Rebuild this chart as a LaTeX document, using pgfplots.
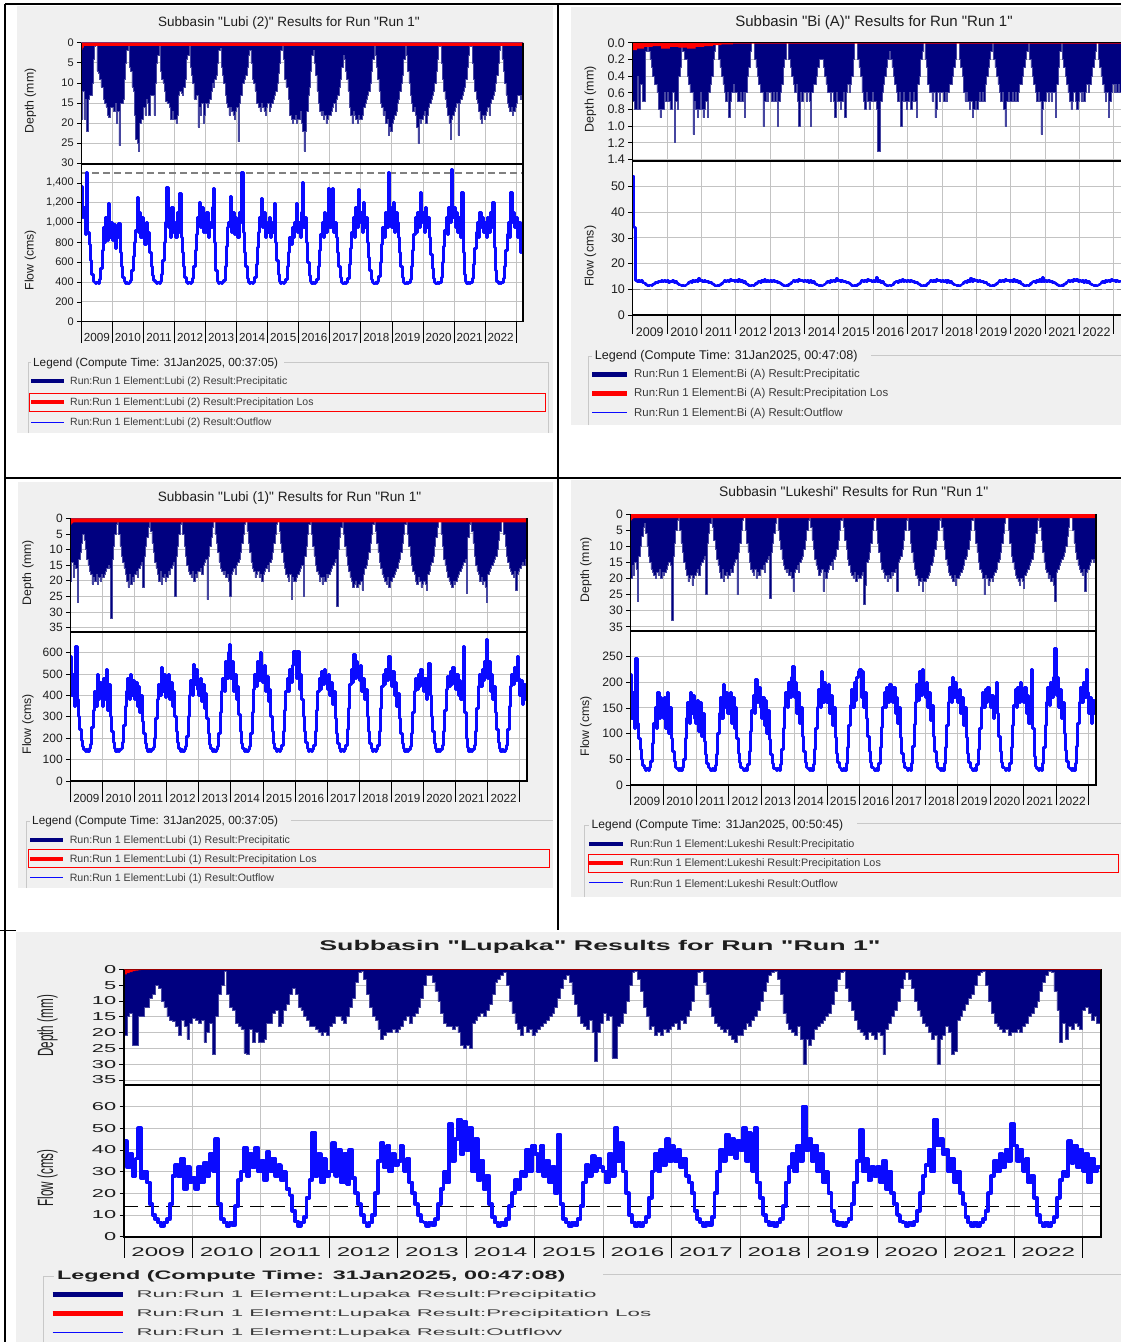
\documentclass[border=0pt]{standalone}
\usepackage{fontspec}
\setmainfont{Liberation Sans}[Ligatures=TeXOff]
\newfontfamily\widef{Liberation Sans}[FakeStretch=1.9, Ligatures=TeXOff]
\newfontfamily\wideg{Liberation Sans}[FakeStretch=2.3, Ligatures=TeXOff]
\newfontfamily\tallf{Liberation Sans}[FakeStretch=0.53, Ligatures=TeXOff]
\usepackage{pgfplots}
\pgfplotsset{compat=1.18}
\newcommand\fs[1]{\fontsize{#1}{#1}\selectfont}
\definecolor{hnavy}{RGB}{0,0,128}
\definecolor{hedge}{RGB}{70,70,160}
\definecolor{hblue}{RGB}{10,10,255}
\definecolor{hred}{RGB}{255,0,0}
\definecolor{winbg}{RGB}{240,240,240}
\definecolor{gridc}{RGB}{195,195,195}
\definecolor{boxc}{RGB}{200,200,200}
\definecolor{txt}{RGB}{30,30,30}
\definecolor{ltxt}{RGB}{60,60,60}
\pgfplotsset{
  hms/.style={scale only axis, anchor=north west, xmin=0, xmax=341.3,
    xtick={0,24,48,72,96,120,144,168,192,216,240,264,288,312,336},
    axis line style={draw=none}, axis background/.style={fill=white},
    grid=major, major grid style={draw=gridc, line width=0.9pt},
    tick align=outside, major tick length=4.5pt,
    ytick pos=left, xtick pos=bottom,
    tick style={black, line width=0.7pt}, xtick style={draw=none},
    yticklabel style={anchor=east, inner sep=3pt, text=txt},
    xticklabel style={text=txt},
    ylabel style={anchor=center, text=txt}},
  depth/.style={hms, y dir=reverse, ymin=0, xticklabels={}},
  flow/.style={hms, ymin=0, x tick label as interval,
    xticklabels={2009,2010,2011,2012,2013,2014,2015,2016,2017,2018,2019,2020,2021,2022},
    xticklabel style={anchor=base}},
  prec/.style={const plot, fill=hnavy, draw=hedge, line width=0.5pt},
  loss/.style={const plot, fill=hred, draw=none},
  outf/.style={const plot, draw=hblue, line width=3pt, line join=round},
}
\begin{document}
\begin{tikzpicture}
\useasboundingbox (0pt,0pt) rectangle (1121pt,-1342pt);
\begin{scope}[x=1pt,y=-1pt]
\fill[white] (0,0) rectangle (1121,1342);
\fill[winbg] (17,6) rectangle (553,433);
\fill[winbg] (571,7) rectangle (1121,425);
\fill[winbg] (18,482) rectangle (553,888);
\fill[winbg] (571,480) rectangle (1121,897);
\fill[winbg] (16,932) rectangle (1121,1342);
\draw[black, line width=1.2pt] (5,4) -- (1121,4);
\draw[black, line width=1.2pt] (5,4) -- (5,1342);
\draw[black, line width=1.2pt] (5,478) -- (1121,478);
\draw[black, line width=1.2pt] (558,4) -- (558,930);
\draw[black, line width=1.2pt] (0,930.5) -- (16,930.5);
\end{scope}

%================ TL : Lubi (2)
\begin{axis}[depth, at={(81.4pt,-42.7pt)}, width=441.6pt, height=121.3pt, ymax=30.2,
  ytick={0,5,10,15,20,25,30}, yticklabels={0,5,10,15,20,25,30},
  yticklabel style={font=\fs{11}}, ylabel={Depth (mm)},
  ylabel style={font=\fs{12.3}, at={(axis description cs:-0.1155,0.52)}}]
\addplot[prec] table[row sep=\\, header=false, x expr=\coordindex, y index=0]{
19\\ 12\\ 19\\ 14\\ 22\\ 14\\ 13\\ 13\\ 10\\ 4\\ 1\\ 0\\ 7\\ 7.5\\ 9\\ 11\\ 11\\ 14\\ 15\\ 16\\ 18\\ 18.5\\ 16\\ 16\\
16\\ 17\\ 15\\ 20\\ 17\\ 25.6\\ 15\\ 15\\ 14\\ 9\\ 5\\ 2\\ 0\\ 6\\ 7\\ 11\\ 12\\ 18\\ 24\\ 25\\ 27\\ 20\\ 19\\ 19\\
16\\ 18\\ 14\\ 15\\ 18\\ 13\\ 13\\ 13\\ 18\\ 10\\ 5\\ 3\\ 0\\ 7\\ 9\\ 10\\ 12\\ 14.6\\ 15\\ 15\\ 16\\ 19\\ 17\\ 19\\
19\\ 20\\ 18\\ 13\\ 12\\ 12.5\\ 13\\ 11\\ 9\\ 4\\ 3\\ 0\\ 6\\ 8\\ 10\\ 14\\ 14\\ 13\\ 21\\ 16\\ 18\\ 15\\ 20\\ 18\\
15\\ 16\\ 15\\ 14\\ 12\\ 10\\ 11\\ 9\\ 8\\ 5\\ 2\\ 1.5\\ 6\\ 8\\ 10\\ 13\\ 15\\ 16\\ 18\\ 16\\ 17\\ 18\\ 19\\ 17\\
16\\ 24.6\\ 15\\ 13\\ 10\\ 10\\ 9\\ 8\\ 6\\ 3\\ 2\\ 5\\ 9\\ 10\\ 12\\ 15\\ 15\\ 16\\ 17\\ 15\\ 16\\ 17\\ 18\\ 16\\
15\\ 17\\ 16\\ 15\\ 14\\ 13\\ 12\\ 10\\ 7.5\\ 5\\ 2\\ 0\\ 4\\ 9\\ 11\\ 11\\ 14\\ 18\\ 19\\ 20\\ 19\\ 18\\ 20\\ 19\\
19\\ 17\\ 20\\ 22\\ 27\\ 22\\ 17\\ 13\\ 11\\ 7\\ 3\\ 2\\ 5\\ 8\\ 12\\ 15\\ 17\\ 18\\ 17\\ 19\\ 18\\ 20\\ 19\\ 18\\
18\\ 17\\ 16\\ 15\\ 17\\ 14\\ 13\\ 11\\ 9\\ 6\\ 3\\ 4\\ 7\\ 9\\ 12\\ 16\\ 18\\ 20\\ 17\\ 18\\ 19\\ 20\\ 18\\ 19\\
19\\ 18\\ 16\\ 15\\ 14\\ 13\\ 12\\ 10\\ 7\\ 4\\ 0\\ 3\\ 6\\ 9\\ 12\\ 15\\ 16\\ 18\\ 17\\ 20\\ 19\\ 23\\ 21\\ 22\\
20\\ 19\\ 18\\ 17\\ 15\\ 14\\ 12\\ 10\\ 8\\ 4\\ 0\\ 3\\ 7\\ 10\\ 13\\ 15\\ 17\\ 16\\ 18\\ 21\\ 25\\ 19\\ 20\\ 19\\
18\\ 17\\ 20\\ 18\\ 16\\ 15\\ 14\\ 13\\ 12\\ 10\\ 7\\ 4\\ 1\\ 0\\ 5\\ 9\\ 12\\ 14\\ 16\\ 18\\ 20\\ 24\\ 19\\ 18\\
17\\ 16\\ 15\\ 23\\ 15\\ 14\\ 13\\ 12\\ 11\\ 9\\ 6\\ 3\\ 1\\ 0\\ 5\\ 9\\ 12\\ 14\\ 15\\ 17\\ 19\\ 20\\ 18\\ 19\\
18\\ 17\\ 16\\ 18\\ 15\\ 14\\ 13\\ 12\\ 10\\ 8\\ 5\\ 2\\ 0\\ 4\\ 7\\ 10\\ 13\\ 15\\ 16\\ 17\\ 16\\ 18\\ 17\\ 16\\
15\\ 13\\ 13\\ 14\\ 13\\ 13\\ 13\\ 13\\
} \closedcycle;
\addplot[loss] coordinates {(0,1.7)(1,1.2)(2,0.8)(343,0.8)} \closedcycle;
\end{axis}
\begin{axis}[flow, at={(81.4pt,-164pt)}, width=441.6pt, height=157.7pt, ymax=1590,
  ytick={0,200,400,600,800,1000,1200,1400}, yticklabels={0,200,400,600,800,{1,000},{1,200},{1,400}},
  yticklabel style={font=\fs{11}}, xticklabel style={font=\fs{11.7}, yshift=-15pt},
  ylabel={Flow (cms)}, ylabel style={font=\fs{12.3}, at={(axis description cs:-0.1155,0.39)}}]
\addplot[gray, line width=1.2pt, dash pattern=on 7pt off 4pt] coordinates {(0,1500)(341.3,1500)};
\addplot[outf] table[row sep=\\, header=false, x expr=\coordindex, y index=0]{
1360\\ 1050\\ 1150\\ 880\\ 1500\\ 900\\ 780\\ 620\\ 480\\ 410\\ 398\\ 385\\ 395\\ 388\\ 430\\ 540\\ 720\\ 950\\ 800\\ 1050\\ 820\\ 1190\\ 850\\ 1000\\
820\\ 980\\ 740\\ 900\\ 850\\ 990\\ 700\\ 560\\ 450\\ 402\\ 388\\ 396\\ 385\\ 398\\ 420\\ 520\\ 660\\ 800\\ 920\\ 1250\\ 900\\ 1100\\ 850\\ 1050\\
950\\ 780\\ 1000\\ 800\\ 900\\ 700\\ 560\\ 470\\ 415\\ 398\\ 386\\ 397\\ 388\\ 410\\ 480\\ 620\\ 800\\ 1000\\ 1350\\ 950\\ 1100\\ 850\\ 1150\\ 900\\
1000\\ 850\\ 1100\\ 900\\ 1290\\ 850\\ 700\\ 560\\ 450\\ 400\\ 388\\ 396\\ 386\\ 398\\ 440\\ 560\\ 720\\ 880\\ 1050\\ 1200\\ 950\\ 1150\\ 900\\ 1050\\
900\\ 1100\\ 850\\ 1000\\ 950\\ 1150\\ 1340\\ 800\\ 520\\ 410\\ 390\\ 398\\ 386\\ 396\\ 420\\ 560\\ 760\\ 950\\ 1000\\ 1260\\ 900\\ 1100\\ 880\\ 1050\\
1000\\ 850\\ 1100\\ 1000\\ 1500\\ 900\\ 700\\ 560\\ 440\\ 400\\ 388\\ 397\\ 386\\ 400\\ 450\\ 580\\ 750\\ 900\\ 1050\\ 1240\\ 950\\ 1100\\ 850\\ 1000\\
900\\ 1050\\ 850\\ 1000\\ 900\\ 1190\\ 800\\ 620\\ 480\\ 410\\ 390\\ 398\\ 386\\ 395\\ 430\\ 560\\ 700\\ 850\\ 780\\ 950\\ 850\\ 1000\\ 1190\\ 900\\
1000\\ 850\\ 1100\\ 1400\\ 950\\ 1050\\ 800\\ 600\\ 470\\ 405\\ 388\\ 397\\ 386\\ 398\\ 430\\ 560\\ 720\\ 880\\ 1000\\ 850\\ 1100\\ 900\\ 1050\\ 1340\\
950\\ 1100\\ 1340\\ 900\\ 1000\\ 850\\ 700\\ 560\\ 450\\ 400\\ 388\\ 396\\ 386\\ 400\\ 440\\ 580\\ 740\\ 900\\ 1050\\ 850\\ 1150\\ 950\\ 1330\\ 1000\\
1100\\ 900\\ 1200\\ 950\\ 1050\\ 800\\ 650\\ 520\\ 430\\ 398\\ 386\\ 396\\ 388\\ 405\\ 460\\ 600\\ 780\\ 950\\ 850\\ 1100\\ 950\\ 1500\\ 1000\\ 1150\\
950\\ 1200\\ 900\\ 1100\\ 1000\\ 850\\ 700\\ 560\\ 450\\ 400\\ 388\\ 396\\ 386\\ 398\\ 430\\ 560\\ 720\\ 880\\ 1050\\ 900\\ 1100\\ 950\\ 1300\\ 1000\\
1100\\ 900\\ 1150\\ 950\\ 1050\\ 850\\ 680\\ 540\\ 440\\ 400\\ 388\\ 396\\ 386\\ 400\\ 450\\ 600\\ 760\\ 920\\ 1050\\ 880\\ 1150\\ 1000\\ 1530\\ 1050\\
1150\\ 950\\ 1100\\ 900\\ 1050\\ 850\\ 1300\\ 700\\ 480\\ 405\\ 388\\ 397\\ 386\\ 398\\ 440\\ 580\\ 740\\ 900\\ 1000\\ 850\\ 1100\\ 950\\ 1050\\ 900\\
1000\\ 850\\ 1050\\ 900\\ 1100\\ 950\\ 1200\\ 750\\ 520\\ 410\\ 388\\ 396\\ 386\\ 400\\ 440\\ 560\\ 720\\ 880\\ 1000\\ 850\\ 1300\\ 1000\\ 1100\\ 950\\
1050\\ 850\\ 1000\\ 700\\ 950\\ 1000\\ 950\\ 950\\
};
\end{axis}

%================ TR : Bi (A)
\begin{axis}[depth, at={(632.6pt,-42.7pt)}, width=488.8pt, height=118pt, ymax=1.416,
  ytick={0,0.2,0.4,0.6,0.8,1.0,1.2,1.4}, yticklabels={0.0,0.2,0.4,0.6,0.8,1.0,1.2,1.4},
  yticklabel style={font=\fs{12.5}}, ylabel={Depth (mm)},
  ylabel style={font=\fs{12.5}, at={(axis description cs:-0.0863,0.52)}}]
\addplot[prec] table[row sep=\\, header=false, x expr=\coordindex, y index=0]{
0.7\\ 0.8\\ 0.8\\ 0.4\\ 0.8\\ 0.5\\ 0.5\\ 0.7\\ 0.7\\ 0.1\\ 0.0\\ 0.1\\ 0.2\\ 0.3\\ 0.4\\ 0.5\\ 0.5\\ 0.6\\ 0.8\\ 0.9\\ 0.8\\ 0.8\\ 0.6\\ 0.7\\
0.6\\ 0.7\\ 0.8\\ 0.8\\ 0.6\\ 1.2\\ 0.7\\ 0.8\\ 0.4\\ 0.3\\ 0.0\\ 0.1\\ 0.2\\ 0.2\\ 0.4\\ 0.5\\ 0.6\\ 0.6\\ 1.1\\ 0.7\\ 0.8\\ 0.9\\ 0.8\\ 0.6\\
0.8\\ 0.9\\ 0.8\\ 0.7\\ 0.9\\ 0.6\\ 0.5\\ 0.4\\ 0.2\\ 0.1\\ 0.0\\ 0.0\\ 0.2\\ 0.3\\ 0.4\\ 0.5\\ 0.6\\ 0.7\\ 0.6\\ 0.9\\ 0.7\\ 0.6\\ 0.5\\ 0.6\\
0.6\\ 0.7\\ 0.7\\ 0.6\\ 0.7\\ 0.6\\ 0.9\\ 0.6\\ 0.4\\ 0.3\\ 0.1\\ 0.0\\ 0.0\\ 0.2\\ 0.3\\ 0.4\\ 0.5\\ 0.6\\ 0.6\\ 1.0\\ 0.7\\ 0.6\\ 0.7\\ 0.6\\
0.6\\ 0.7\\ 0.6\\ 0.7\\ 0.6\\ 1.0\\ 0.7\\ 0.6\\ 0.5\\ 0.3\\ 0.2\\ 0.0\\ 0.0\\ 0.2\\ 0.3\\ 0.4\\ 0.5\\ 0.6\\ 0.5\\ 0.7\\ 1.0\\ 0.6\\ 0.7\\ 0.6\\
0.6\\ 0.7\\ 0.6\\ 0.7\\ 1.0\\ 0.6\\ 0.5\\ 0.5\\ 0.4\\ 0.3\\ 0.2\\ 0.2\\ 0.2\\ 0.3\\ 0.4\\ 0.5\\ 0.6\\ 0.6\\ 0.7\\ 0.6\\ 0.7\\ 0.9\\ 0.6\\ 0.7\\
0.7\\ 0.8\\ 0.7\\ 0.6\\ 0.9\\ 0.6\\ 0.5\\ 0.6\\ 0.5\\ 0.4\\ 0.2\\ 0.0\\ 0.0\\ 0.2\\ 0.3\\ 0.4\\ 0.6\\ 0.7\\ 0.8\\ 0.6\\ 0.7\\ 0.8\\ 0.7\\ 0.6\\
0.7\\ 0.7\\ 0.8\\ 1.3\\ 1.3\\ 0.7\\ 0.6\\ 0.5\\ 0.4\\ 0.3\\ 0.2\\ 0.1\\ 0.2\\ 0.3\\ 0.4\\ 0.5\\ 0.6\\ 0.7\\ 0.6\\ 1.0\\ 0.7\\ 0.6\\ 0.7\\ 0.8\\
0.7\\ 0.6\\ 0.8\\ 0.7\\ 0.6\\ 0.7\\ 0.9\\ 0.5\\ 0.4\\ 0.2\\ 0.1\\ 0.0\\ 0.2\\ 0.3\\ 0.5\\ 0.6\\ 0.6\\ 0.7\\ 0.6\\ 0.9\\ 0.8\\ 0.6\\ 0.7\\ 0.6\\
0.6\\ 0.7\\ 0.6\\ 0.7\\ 0.6\\ 0.5\\ 0.5\\ 0.4\\ 0.3\\ 0.2\\ 0.0\\ 0.0\\ 0.2\\ 0.3\\ 0.4\\ 0.6\\ 0.7\\ 0.6\\ 0.7\\ 0.8\\ 0.7\\ 0.9\\ 0.8\\ 0.7\\
0.8\\ 0.7\\ 0.6\\ 0.7\\ 0.6\\ 0.7\\ 0.5\\ 0.4\\ 0.3\\ 0.2\\ 0.1\\ 0.0\\ 0.2\\ 0.3\\ 0.4\\ 0.5\\ 0.6\\ 0.7\\ 0.6\\ 0.8\\ 1.0\\ 0.7\\ 0.6\\ 0.7\\
0.7\\ 0.6\\ 0.7\\ 0.6\\ 0.7\\ 0.6\\ 0.5\\ 0.5\\ 0.4\\ 0.3\\ 0.2\\ 0.1\\ 0.0\\ 0.2\\ 0.3\\ 0.4\\ 0.5\\ 0.6\\ 0.7\\ 0.6\\ 0.7\\ 1.1\\ 0.8\\ 0.7\\
0.7\\ 0.6\\ 0.7\\ 0.6\\ 0.7\\ 0.6\\ 0.6\\ 0.9\\ 0.5\\ 0.3\\ 0.1\\ 0.0\\ 0.2\\ 0.3\\ 0.4\\ 0.5\\ 0.6\\ 0.7\\ 0.8\\ 0.7\\ 0.6\\ 0.7\\ 0.8\\ 0.7\\
0.6\\ 0.7\\ 0.6\\ 0.7\\ 0.6\\ 0.5\\ 0.6\\ 0.5\\ 0.4\\ 0.3\\ 0.2\\ 0.1\\ 0.0\\ 0.2\\ 0.3\\ 0.4\\ 0.5\\ 0.6\\ 0.7\\ 0.6\\ 0.9\\ 0.7\\ 0.6\\ 0.5\\
0.6\\ 0.5\\ 0.6\\ 0.5\\ 0.6\\ 0.5\\ 0.6\\ 0.6\\
} \closedcycle;
\addplot[loss] coordinates {(0,0.09)(3,0.07)(8,0.05)(14,0.04)(20,0.07)(26,0.05)(32,0.06)(38,0.07)(44,0.05)(50,0.04)(56,0.03)(62,0.02)(70,0.012)(343,0.012)} \closedcycle;
\end{axis}
\begin{axis}[flow, at={(632.6pt,-160.7pt)}, width=488.8pt, height=154.3pt, ymax=60,
  ytick={0,10,20,30,40,50}, yticklabels={0,10,20,30,40,50},
  yticklabel style={font=\fs{12.5}}, xticklabel style={font=\fs{12.5}, yshift=-16.5pt},
  ylabel={Flow (cms)}, ylabel style={font=\fs{12.5}, at={(axis description cs:-0.0863,0.38)}}]
\addplot[gray, line width=1.2pt, dash pattern=on 7pt off 4pt] coordinates {(0,10)(341.3,10)};
\addplot[outf, line width=2.6pt] table[row sep=\\, header=false, x expr=\coordindex, y index=0]{
54\\ 34\\ 13.5\\ 12.8\\ 13.6\\ 12.9\\ 13.4\\ 12.6\\ 12.4\\ 11.9\\ 11.5\\ 11.3\\ 11.6\\ 11.4\\ 11.8\\ 12.3\\ 12.9\\ 12.6\\ 13.2\\ 12.8\\ 13.4\\ 13.0\\ 13.3\\ 12.9\\
13.4\\ 12.7\\ 13.2\\ 12.8\\ 13.5\\ 12.6\\ 13.0\\ 12.3\\ 11.9\\ 11.6\\ 11.3\\ 11.5\\ 11.3\\ 11.7\\ 12.1\\ 12.7\\ 13.1\\ 12.7\\ 13.4\\ 12.9\\ 13.6\\ 13.1\\ 14.2\\ 13.3\\
13.6\\ 12.9\\ 13.4\\ 12.8\\ 13.2\\ 12.5\\ 12.8\\ 12.2\\ 11.8\\ 11.5\\ 11.3\\ 11.5\\ 11.4\\ 11.8\\ 12.3\\ 12.9\\ 13.3\\ 12.8\\ 13.5\\ 13.0\\ 13.8\\ 13.2\\ 13.6\\ 13.0\\
13.5\\ 12.8\\ 13.7\\ 12.9\\ 13.3\\ 12.6\\ 13.0\\ 12.3\\ 11.9\\ 11.5\\ 11.3\\ 11.6\\ 11.4\\ 11.7\\ 12.2\\ 12.8\\ 13.2\\ 12.7\\ 13.5\\ 13.0\\ 13.7\\ 13.1\\ 13.5\\ 13.0\\
13.4\\ 12.8\\ 13.6\\ 12.9\\ 13.2\\ 12.5\\ 12.9\\ 12.2\\ 11.8\\ 11.5\\ 11.3\\ 11.5\\ 11.3\\ 11.8\\ 12.2\\ 12.8\\ 13.3\\ 12.8\\ 13.6\\ 13.0\\ 13.9\\ 13.2\\ 13.6\\ 13.1\\
13.5\\ 12.9\\ 13.3\\ 12.7\\ 13.4\\ 12.6\\ 13.0\\ 12.3\\ 11.9\\ 11.6\\ 11.4\\ 11.5\\ 11.3\\ 11.7\\ 12.1\\ 12.7\\ 13.2\\ 12.7\\ 13.5\\ 13.0\\ 13.6\\ 13.1\\ 14.3\\ 13.2\\
13.6\\ 12.9\\ 13.4\\ 12.8\\ 13.2\\ 12.6\\ 12.9\\ 12.2\\ 11.8\\ 11.5\\ 11.3\\ 11.5\\ 11.4\\ 11.8\\ 12.3\\ 12.9\\ 13.3\\ 12.8\\ 13.6\\ 13.1\\ 13.8\\ 13.2\\ 13.6\\ 13.0\\
13.5\\ 12.8\\ 14.5\\ 12.9\\ 13.3\\ 12.6\\ 13.0\\ 12.3\\ 11.9\\ 11.5\\ 11.3\\ 11.6\\ 11.4\\ 11.7\\ 12.2\\ 12.8\\ 13.2\\ 12.7\\ 13.5\\ 13.0\\ 13.7\\ 13.1\\ 13.5\\ 13.0\\
13.4\\ 12.8\\ 13.6\\ 12.9\\ 13.2\\ 12.5\\ 12.9\\ 12.2\\ 11.8\\ 11.5\\ 11.3\\ 11.5\\ 11.3\\ 11.8\\ 12.2\\ 12.8\\ 13.3\\ 12.8\\ 13.6\\ 13.0\\ 13.9\\ 13.2\\ 13.6\\ 13.1\\
13.5\\ 12.9\\ 13.3\\ 12.7\\ 13.4\\ 12.6\\ 13.0\\ 12.3\\ 11.9\\ 11.6\\ 11.4\\ 11.5\\ 11.3\\ 11.7\\ 12.1\\ 12.7\\ 13.2\\ 12.7\\ 13.5\\ 13.0\\ 14.4\\ 13.1\\ 13.8\\ 13.2\\
13.6\\ 12.9\\ 13.4\\ 12.8\\ 13.2\\ 12.6\\ 12.9\\ 12.2\\ 11.8\\ 11.5\\ 11.3\\ 11.5\\ 11.4\\ 11.8\\ 12.3\\ 12.9\\ 13.3\\ 12.8\\ 13.6\\ 13.1\\ 13.8\\ 13.2\\ 13.6\\ 13.0\\
13.5\\ 12.8\\ 13.7\\ 12.9\\ 13.3\\ 12.6\\ 13.0\\ 12.3\\ 11.9\\ 11.5\\ 11.3\\ 11.6\\ 11.4\\ 11.7\\ 12.2\\ 12.8\\ 13.2\\ 12.7\\ 13.5\\ 13.0\\ 13.7\\ 13.1\\ 14.6\\ 13.0\\
13.4\\ 12.8\\ 13.6\\ 12.9\\ 13.2\\ 12.5\\ 12.9\\ 12.2\\ 11.8\\ 11.5\\ 11.3\\ 11.5\\ 11.3\\ 11.8\\ 12.2\\ 12.8\\ 13.3\\ 12.8\\ 13.6\\ 13.0\\ 13.9\\ 13.2\\ 14.0\\ 13.1\\
13.5\\ 12.9\\ 13.3\\ 12.7\\ 13.4\\ 12.6\\ 13.0\\ 12.3\\ 11.9\\ 11.6\\ 11.4\\ 11.5\\ 11.3\\ 11.7\\ 12.1\\ 12.7\\ 13.2\\ 12.7\\ 13.5\\ 13.0\\ 13.6\\ 13.1\\ 13.8\\ 13.2\\
13.6\\ 12.9\\ 13.4\\ 12.8\\ 13.2\\ 12.9\\ 13.1\\ 13.1\\
};
\end{axis}

%================ ML : Lubi (1)
\begin{axis}[depth, at={(70.4pt,-518.3pt)}, width=456.4pt, height=113.4pt, ymax=36.3,
  ytick={0,5,10,15,20,25,30,35}, yticklabels={0,5,10,15,20,25,30,35},
  yticklabel style={font=\fs{12}}, ylabel={Depth (mm)},
  ylabel style={font=\fs{12.3}, at={(axis description cs:-0.0931,0.52)}}]
\addplot[prec] table[row sep=\\, header=false, x expr=\coordindex, y index=0]{
20\\ 14\\ 19\\ 15\\ 16\\ 27\\ 13\\ 11\\ 8\\ 5\\ 7\\ 10\\ 13\\ 15\\ 17\\ 18\\ 21\\ 19\\ 20\\ 18\\ 21\\ 19\\ 20\\ 18\\
19\\ 18\\ 17\\ 16\\ 15\\ 16\\ 32\\ 13\\ 9\\ 5\\ 2\\ 0\\ 5\\ 9\\ 12\\ 14\\ 16\\ 18\\ 20\\ 22\\ 18\\ 21\\ 19\\ 20\\
18\\ 17\\ 19\\ 16\\ 15\\ 14\\ 22\\ 12\\ 9\\ 6\\ 3\\ 0\\ 4\\ 8\\ 11\\ 14\\ 16\\ 18\\ 20\\ 17\\ 21\\ 19\\ 18\\ 20\\
19\\ 17\\ 18\\ 16\\ 15\\ 14\\ 25\\ 12\\ 9\\ 5\\ 2\\ 0\\ 5\\ 9\\ 12\\ 15\\ 17\\ 18\\ 19\\ 17\\ 20\\ 18\\ 19\\ 17\\
17\\ 16\\ 18\\ 15\\ 14\\ 13\\ 26\\ 12\\ 9\\ 6\\ 3\\ 0\\ 5\\ 8\\ 11\\ 14\\ 16\\ 17\\ 18\\ 17\\ 19\\ 18\\ 20\\ 25\\
18\\ 17\\ 16\\ 18\\ 15\\ 14\\ 13\\ 11\\ 8\\ 5\\ 2\\ 0\\ 4\\ 8\\ 11\\ 14\\ 16\\ 17\\ 19\\ 18\\ 17\\ 19\\ 18\\ 20\\
18\\ 17\\ 16\\ 15\\ 17\\ 14\\ 13\\ 11\\ 8\\ 5\\ 2\\ 0\\ 4\\ 8\\ 11\\ 14\\ 16\\ 18\\ 19\\ 20\\ 18\\ 26\\ 19\\ 20\\
20\\ 19\\ 18\\ 17\\ 16\\ 15\\ 25\\ 12\\ 9\\ 5\\ 2\\ 0\\ 5\\ 9\\ 12\\ 15\\ 17\\ 18\\ 20\\ 19\\ 21\\ 19\\ 20\\ 18\\
19\\ 18\\ 17\\ 16\\ 15\\ 14\\ 13\\ 28\\ 10\\ 6\\ 3\\ 0\\ 5\\ 9\\ 12\\ 15\\ 17\\ 19\\ 20\\ 22\\ 21\\ 20\\ 22\\ 21\\
21\\ 20\\ 23\\ 18\\ 16\\ 15\\ 13\\ 11\\ 8\\ 5\\ 2\\ 0\\ 4\\ 8\\ 11\\ 14\\ 16\\ 18\\ 19\\ 20\\ 21\\ 19\\ 22\\ 20\\
20\\ 19\\ 18\\ 17\\ 16\\ 14\\ 13\\ 11\\ 8\\ 5\\ 2\\ 0\\ 5\\ 9\\ 12\\ 15\\ 17\\ 18\\ 20\\ 21\\ 19\\ 20\\ 22\\ 21\\
20\\ 21\\ 23\\ 18\\ 17\\ 15\\ 14\\ 12\\ 9\\ 6\\ 3\\ 1\\ 0\\ 5\\ 9\\ 13\\ 15\\ 17\\ 19\\ 20\\ 21\\ 22\\ 20\\ 21\\
20\\ 19\\ 18\\ 17\\ 16\\ 15\\ 14\\ 13\\ 24\\ 6\\ 2\\ 0\\ 4\\ 8\\ 12\\ 15\\ 17\\ 18\\ 20\\ 19\\ 21\\ 20\\ 22\\ 27\\
18\\ 17\\ 16\\ 15\\ 14\\ 13\\ 12\\ 10\\ 7\\ 4\\ 1\\ 0\\ 5\\ 9\\ 12\\ 14\\ 16\\ 17\\ 18\\ 19\\ 17\\ 23\\ 18\\ 17\\
16\\ 15\\ 14\\ 15\\ 13\\ 15\\ 15\\ 15\\
} \closedcycle;
\addplot[loss] coordinates {(0,2.0)(1,1.6)(2,1.3)(343,1.3)} \closedcycle;
\end{axis}
\begin{axis}[flow, at={(70.4pt,-631.7pt)}, width=456.4pt, height=149.3pt, ymax=698,
  ytick={0,100,200,300,400,500,600}, yticklabels={0,100,200,300,400,500,600},
  yticklabel style={font=\fs{12}}, xticklabel style={font=\fs{11.7}, yshift=-16.5pt},
  ylabel={Flow (cms)}, ylabel style={font=\fs{12.3}, at={(axis description cs:-0.0931,0.38)}}]
\addplot[outf] table[row sep=\\, header=false, x expr=\coordindex, y index=0]{
580\\ 400\\ 500\\ 350\\ 630\\ 380\\ 300\\ 240\\ 190\\ 160\\ 145\\ 136\\ 146\\ 138\\ 150\\ 170\\ 250\\ 330\\ 420\\ 350\\ 500\\ 380\\ 460\\ 400\\
350\\ 480\\ 380\\ 520\\ 330\\ 450\\ 300\\ 230\\ 180\\ 150\\ 138\\ 146\\ 136\\ 145\\ 150\\ 180\\ 260\\ 350\\ 420\\ 480\\ 380\\ 500\\ 400\\ 470\\
380\\ 460\\ 350\\ 440\\ 320\\ 400\\ 280\\ 220\\ 175\\ 150\\ 138\\ 146\\ 136\\ 145\\ 155\\ 200\\ 290\\ 380\\ 450\\ 400\\ 530\\ 420\\ 500\\ 390\\
420\\ 500\\ 380\\ 460\\ 350\\ 420\\ 300\\ 230\\ 180\\ 150\\ 138\\ 146\\ 136\\ 147\\ 160\\ 210\\ 300\\ 400\\ 470\\ 400\\ 545\\ 450\\ 520\\ 430\\
400\\ 480\\ 370\\ 450\\ 340\\ 410\\ 290\\ 220\\ 170\\ 150\\ 138\\ 146\\ 136\\ 147\\ 160\\ 220\\ 320\\ 420\\ 480\\ 420\\ 560\\ 480\\ 600\\ 640\\
480\\ 560\\ 420\\ 500\\ 380\\ 440\\ 310\\ 230\\ 175\\ 150\\ 138\\ 146\\ 136\\ 147\\ 160\\ 220\\ 320\\ 430\\ 500\\ 440\\ 560\\ 470\\ 600\\ 520\\
460\\ 540\\ 420\\ 490\\ 370\\ 430\\ 300\\ 230\\ 175\\ 150\\ 138\\ 146\\ 136\\ 147\\ 165\\ 230\\ 330\\ 420\\ 480\\ 420\\ 520\\ 460\\ 540\\ 605\\
605\\ 480\\ 605\\ 430\\ 500\\ 380\\ 300\\ 230\\ 180\\ 150\\ 138\\ 146\\ 136\\ 147\\ 165\\ 230\\ 330\\ 420\\ 480\\ 430\\ 510\\ 450\\ 520\\ 470\\
430\\ 500\\ 400\\ 460\\ 360\\ 420\\ 290\\ 220\\ 175\\ 150\\ 138\\ 146\\ 136\\ 147\\ 165\\ 240\\ 340\\ 450\\ 520\\ 460\\ 590\\ 480\\ 560\\ 500\\
470\\ 540\\ 420\\ 480\\ 380\\ 430\\ 300\\ 230\\ 175\\ 150\\ 138\\ 146\\ 136\\ 147\\ 165\\ 230\\ 340\\ 440\\ 500\\ 450\\ 520\\ 470\\ 580\\ 490\\
440\\ 510\\ 400\\ 460\\ 350\\ 410\\ 290\\ 220\\ 175\\ 150\\ 138\\ 146\\ 136\\ 147\\ 160\\ 220\\ 320\\ 420\\ 480\\ 430\\ 500\\ 440\\ 520\\ 460\\
420\\ 480\\ 380\\ 450\\ 550\\ 400\\ 300\\ 230\\ 175\\ 150\\ 138\\ 146\\ 136\\ 147\\ 165\\ 230\\ 330\\ 430\\ 490\\ 440\\ 510\\ 450\\ 530\\ 470\\
430\\ 500\\ 400\\ 470\\ 380\\ 450\\ 630\\ 320\\ 200\\ 155\\ 138\\ 146\\ 136\\ 147\\ 165\\ 230\\ 340\\ 440\\ 500\\ 440\\ 520\\ 470\\ 560\\ 660\\
480\\ 560\\ 420\\ 500\\ 380\\ 440\\ 320\\ 240\\ 180\\ 150\\ 138\\ 146\\ 136\\ 147\\ 165\\ 240\\ 350\\ 440\\ 500\\ 450\\ 530\\ 470\\ 580\\ 480\\
400\\ 470\\ 360\\ 450\\ 380\\ 420\\ 420\\ 420\\
};
\end{axis}

%================ MR : Lukeshi
\begin{axis}[depth, at={(630.5pt,-514pt)}, width=465.5pt, height=116.7pt, ymax=36.2,
  ytick={0,5,10,15,20,25,30,35}, yticklabels={0,5,10,15,20,25,30,35},
  yticklabel style={font=\fs{12.2}}, ylabel={Depth (mm)},
  ylabel style={font=\fs{12.3}, at={(axis description cs:-0.0956,0.52)}}]
\addplot[prec] table[row sep=\\, header=false, x expr=\coordindex, y index=0]{
20\\ 16\\ 19\\ 15\\ 17\\ 27\\ 13\\ 10\\ 7\\ 4\\ 3\\ 6\\ 10\\ 13\\ 15\\ 17\\ 18\\ 19\\ 20\\ 18\\ 19\\ 17\\ 20\\ 18\\
19\\ 18\\ 17\\ 16\\ 15\\ 16\\ 33\\ 13\\ 9\\ 5\\ 2\\ 0\\ 5\\ 9\\ 12\\ 15\\ 17\\ 19\\ 21\\ 20\\ 19\\ 22\\ 20\\ 19\\
18\\ 17\\ 19\\ 16\\ 15\\ 14\\ 13\\ 25\\ 9\\ 6\\ 3\\ 0\\ 4\\ 8\\ 11\\ 14\\ 16\\ 18\\ 20\\ 17\\ 21\\ 19\\ 18\\ 20\\
19\\ 17\\ 18\\ 16\\ 15\\ 14\\ 25\\ 12\\ 9\\ 5\\ 2\\ 0\\ 5\\ 9\\ 12\\ 15\\ 17\\ 18\\ 19\\ 17\\ 20\\ 18\\ 19\\ 17\\
17\\ 16\\ 18\\ 15\\ 14\\ 13\\ 26\\ 12\\ 9\\ 6\\ 3\\ 0\\ 5\\ 8\\ 11\\ 14\\ 16\\ 17\\ 18\\ 17\\ 19\\ 18\\ 20\\ 24\\
18\\ 17\\ 16\\ 18\\ 15\\ 14\\ 13\\ 11\\ 8\\ 5\\ 2\\ 0\\ 4\\ 8\\ 11\\ 14\\ 16\\ 17\\ 19\\ 18\\ 17\\ 24\\ 18\\ 20\\
18\\ 17\\ 16\\ 15\\ 17\\ 14\\ 13\\ 11\\ 8\\ 5\\ 2\\ 0\\ 4\\ 8\\ 11\\ 14\\ 16\\ 18\\ 19\\ 20\\ 18\\ 21\\ 19\\ 20\\
20\\ 19\\ 18\\ 28\\ 22\\ 15\\ 14\\ 12\\ 9\\ 5\\ 2\\ 0\\ 5\\ 9\\ 12\\ 15\\ 17\\ 18\\ 20\\ 19\\ 21\\ 19\\ 20\\ 18\\
19\\ 18\\ 17\\ 24\\ 15\\ 14\\ 13\\ 11\\ 8\\ 5\\ 2\\ 0\\ 5\\ 9\\ 12\\ 15\\ 17\\ 19\\ 20\\ 22\\ 21\\ 20\\ 24\\ 21\\
21\\ 20\\ 19\\ 18\\ 16\\ 15\\ 13\\ 11\\ 8\\ 5\\ 2\\ 0\\ 4\\ 8\\ 11\\ 14\\ 16\\ 18\\ 19\\ 20\\ 21\\ 19\\ 22\\ 20\\
20\\ 19\\ 18\\ 17\\ 16\\ 14\\ 13\\ 11\\ 8\\ 5\\ 2\\ 0\\ 5\\ 9\\ 12\\ 15\\ 17\\ 18\\ 20\\ 25\\ 19\\ 20\\ 22\\ 21\\
20\\ 21\\ 19\\ 18\\ 17\\ 15\\ 14\\ 12\\ 9\\ 6\\ 3\\ 1\\ 0\\ 5\\ 9\\ 13\\ 15\\ 17\\ 19\\ 20\\ 21\\ 22\\ 20\\ 21\\
23\\ 19\\ 18\\ 17\\ 16\\ 15\\ 14\\ 12\\ 9\\ 6\\ 2\\ 0\\ 4\\ 8\\ 12\\ 15\\ 17\\ 18\\ 20\\ 19\\ 21\\ 20\\ 22\\ 27\\
18\\ 17\\ 16\\ 15\\ 14\\ 13\\ 12\\ 10\\ 7\\ 4\\ 1\\ 0\\ 5\\ 9\\ 12\\ 14\\ 16\\ 17\\ 18\\ 19\\ 17\\ 24\\ 18\\ 17\\
16\\ 15\\ 14\\ 15\\ 14\\ 15\\ 15\\ 15\\
} \closedcycle;
\addplot[loss] coordinates {(0,2.0)(1,1.6)(2,1.3)(343,1.3)} \closedcycle;
\end{axis}
\begin{axis}[flow, at={(630.5pt,-630.7pt)}, width=465.5pt, height=154.3pt, ymax=300,
  ytick={0,50,100,150,200,250}, yticklabels={0,50,100,150,200,250},
  yticklabel style={font=\fs{12.2}}, xticklabel style={font=\fs{12}, yshift=-15.8pt},
  ylabel={Flow (cms)}, ylabel style={font=\fs{12.3}, at={(axis description cs:-0.0956,0.38)}}]
\addplot[outf] table[row sep=\\, header=false, x expr=\coordindex, y index=0]{
215\\ 130\\ 180\\ 110\\ 245\\ 120\\ 90\\ 70\\ 50\\ 38\\ 32\\ 29\\ 32\\ 29\\ 35\\ 45\\ 80\\ 120\\ 150\\ 110\\ 180\\ 130\\ 170\\ 140\\
130\\ 170\\ 110\\ 180\\ 100\\ 150\\ 90\\ 65\\ 45\\ 35\\ 32\\ 29\\ 32\\ 29\\ 35\\ 50\\ 90\\ 130\\ 160\\ 120\\ 180\\ 140\\ 175\\ 130\\
120\\ 165\\ 105\\ 160\\ 95\\ 140\\ 85\\ 60\\ 42\\ 34\\ 32\\ 29\\ 32\\ 29\\ 38\\ 60\\ 100\\ 140\\ 170\\ 130\\ 195\\ 150\\ 180\\ 140\\
140\\ 180\\ 120\\ 170\\ 110\\ 150\\ 90\\ 62\\ 44\\ 34\\ 32\\ 29\\ 32\\ 29\\ 40\\ 65\\ 105\\ 145\\ 175\\ 140\\ 205\\ 160\\ 190\\ 150\\
130\\ 170\\ 115\\ 165\\ 100\\ 145\\ 88\\ 60\\ 42\\ 33\\ 32\\ 29\\ 32\\ 29\\ 40\\ 70\\ 110\\ 150\\ 180\\ 150\\ 200\\ 170\\ 210\\ 230\\
170\\ 200\\ 140\\ 180\\ 120\\ 150\\ 95\\ 65\\ 44\\ 34\\ 32\\ 29\\ 32\\ 29\\ 40\\ 70\\ 110\\ 150\\ 185\\ 150\\ 220\\ 160\\ 200\\ 180\\
160\\ 195\\ 140\\ 175\\ 115\\ 150\\ 92\\ 62\\ 43\\ 34\\ 32\\ 29\\ 32\\ 29\\ 42\\ 72\\ 115\\ 155\\ 185\\ 150\\ 200\\ 165\\ 210\\ 220\\
225\\ 170\\ 220\\ 150\\ 180\\ 130\\ 95\\ 65\\ 44\\ 34\\ 32\\ 29\\ 32\\ 29\\ 42\\ 72\\ 112\\ 150\\ 180\\ 150\\ 190\\ 160\\ 195\\ 170\\
160\\ 190\\ 140\\ 170\\ 120\\ 150\\ 92\\ 62\\ 43\\ 34\\ 32\\ 29\\ 32\\ 29\\ 42\\ 75\\ 118\\ 160\\ 195\\ 165\\ 220\\ 175\\ 225\\ 180\\
170\\ 200\\ 150\\ 180\\ 125\\ 155\\ 95\\ 65\\ 44\\ 34\\ 32\\ 29\\ 32\\ 29\\ 42\\ 72\\ 115\\ 160\\ 190\\ 160\\ 210\\ 170\\ 200\\ 175\\
160\\ 185\\ 140\\ 170\\ 115\\ 150\\ 92\\ 62\\ 43\\ 34\\ 32\\ 29\\ 32\\ 29\\ 40\\ 70\\ 110\\ 150\\ 180\\ 150\\ 185\\ 160\\ 190\\ 165\\
150\\ 175\\ 130\\ 165\\ 200\\ 140\\ 95\\ 65\\ 44\\ 34\\ 32\\ 29\\ 32\\ 29\\ 42\\ 72\\ 115\\ 155\\ 185\\ 150\\ 190\\ 160\\ 200\\ 170\\
160\\ 190\\ 140\\ 175\\ 120\\ 160\\ 225\\ 110\\ 55\\ 36\\ 32\\ 29\\ 32\\ 29\\ 42\\ 72\\ 115\\ 160\\ 190\\ 155\\ 200\\ 170\\ 210\\ 265\\
175\\ 210\\ 150\\ 185\\ 130\\ 160\\ 100\\ 68\\ 45\\ 34\\ 32\\ 29\\ 32\\ 29\\ 42\\ 75\\ 120\\ 160\\ 190\\ 160\\ 200\\ 170\\ 225\\ 180\\
140\\ 170\\ 120\\ 165\\ 140\\ 160\\ 160\\ 160\\
};
\end{axis}

%================ Bottom : Lupaka
\begin{axis}[depth, at={(124pt,-969.3pt)}, width=977pt, height=115.4pt, ymax=36.5, xmax=342.5,
  ytick={0,5,10,15,20,25,30,35}, yticklabels={0,5,10,15,20,25,30,35},
  yticklabel style={font=\widef\fs{11.5}}, ylabel={Depth (mm)},
  ylabel style={font=\tallf\fs{22}, at={(axis description cs:-0.0783,0.51)}}]
\addplot[prec] table[row sep=\\, header=false, x expr=\coordindex, y index=0]{
21\\ 15\\ 14\\ 24\\ 24\\ 15\\ 15\\ 12\\ 12\\ 9\\ 8\\ 5\\ 6\\ 10\\ 12\\ 15\\ 16\\ 16.5\\ 18\\ 21\\ 16\\ 18\\ 22\\ 17\\
15.5\\ 16\\ 17\\ 16\\ 23\\ 20\\ 17\\ 27\\ 15\\ 8\\ 5\\ 0.5\\ 8\\ 12\\ 13\\ 17\\ 18\\ 19\\ 26.5\\ 27\\ 19\\ 23\\ 20\\ 23\\
23\\ 22\\ 17\\ 17\\ 14\\ 13\\ 18\\ 17\\ 13\\ 11\\ 8\\ 6\\ 8\\ 12\\ 13\\ 15\\ 16\\ 18\\ 18\\ 19\\ 20\\ 21\\ 20\\ 21\\
18\\ 17\\ 15\\ 15\\ 16\\ 17\\ 15\\ 12\\ 9\\ 4\\ 1\\ 0.5\\ 3\\ 8\\ 12\\ 15\\ 16\\ 19\\ 22\\ 21\\ 20\\ 20\\ 19\\ 20\\
19\\ 18\\ 16\\ 15\\ 17\\ 15\\ 14\\ 12\\ 9\\ 5\\ 2\\ 2\\ 4\\ 7\\ 10\\ 14\\ 17\\ 18\\ 18\\ 19\\ 18\\ 20\\ 24\\ 25\\
24\\ 25\\ 17\\ 16\\ 15\\ 14\\ 15\\ 13\\ 11\\ 8\\ 4\\ 3\\ 2\\ 1\\ 5\\ 10\\ 14\\ 17\\ 19\\ 21\\ 18\\ 20\\ 19\\ 21\\
20\\ 19\\ 18\\ 17\\ 16\\ 15\\ 14\\ 12\\ 9\\ 6\\ 3\\ 2\\ 4\\ 8\\ 11\\ 15\\ 17\\ 18\\ 19\\ 16\\ 20\\ 29\\ 20\\ 17\\
14\\ 16\\ 15\\ 28\\ 28\\ 18\\ 17\\ 14\\ 10\\ 5\\ 1\\ 0.5\\ 3\\ 7\\ 12\\ 15\\ 19\\ 18\\ 21\\ 20\\ 21\\ 19\\ 20\\ 19\\
18\\ 17\\ 19\\ 16\\ 17\\ 15\\ 13\\ 10\\ 5\\ 1\\ 0.5\\ 4\\ 8\\ 12\\ 15\\ 17\\ 18\\ 19\\ 20\\ 19\\ 21\\ 22\\ 23\\ 21\\
21\\ 19\\ 17\\ 18\\ 16\\ 15\\ 13\\ 10\\ 7\\ 4\\ 2\\ 1\\ 0.5\\ 3\\ 8\\ 14\\ 17\\ 19\\ 20\\ 21\\ 18\\ 22\\ 30\\ 22\\
24\\ 22\\ 19\\ 18\\ 17\\ 16\\ 15\\ 14\\ 11\\ 7\\ 3\\ 1\\ 0.5\\ 6\\ 10\\ 13\\ 16\\ 19\\ 20\\ 21\\ 22\\ 20\\ 21\\ 22\\
20\\ 21\\ 27\\ 19\\ 17\\ 15\\ 13\\ 10\\ 6\\ 3\\ 1\\ 3\\ 6\\ 10\\ 13\\ 15\\ 17\\ 18\\ 20\\ 22\\ 21\\ 30\\ 22\\ 21\\
18\\ 20\\ 27\\ 26\\ 16\\ 15\\ 13\\ 11\\ 9\\ 8\\ 5\\ 2\\ 1\\ 0.5\\ 5\\ 10\\ 14\\ 17\\ 18\\ 19\\ 20\\ 19\\ 21\\ 20\\
20\\ 19\\ 20\\ 18\\ 17\\ 15\\ 14\\ 12\\ 10\\ 7\\ 4\\ 2\\ 0.5\\ 1\\ 7\\ 13\\ 23\\ 17\\ 22\\ 18\\ 19\\ 17\\ 18\\ 19\\
13\\ 12\\ 14\\ 16\\ 15\\ 17\\ 17\\ 17\\
} \closedcycle;
\addplot[loss] coordinates {(0,1.6)(1,1.2)(2,0.9)(3,0.6)(4,0.4)(5,0.25)(6,0.2)(344,0.2)} \closedcycle;
\end{axis}
\begin{axis}[flow, at={(124pt,-1084.7pt)}, width=977pt, height=152pt, ymax=70, xmax=342.5,
  ytick={0,10,20,30,40,50,60}, yticklabels={0,10,20,30,40,50,60},
  yticklabel style={font=\widef\fs{11.5}}, xticklabel style={font=\widef\fs{12.7}, yshift=-15pt},
  ylabel={Flow (cms)}, ylabel style={font=\tallf\fs{22}, at={(axis description cs:-0.0783,0.386)}}]
\addplot[black, line width=1.2pt, dash pattern=on 14pt off 7pt] coordinates {(0,14)(342.5,14)};
\addplot[outf, line width=3.8pt] table[row sep=\\, header=false, x expr=\coordindex, y index=0]{
44\\ 32\\ 38\\ 28\\ 36\\ 50\\ 27\\ 30\\ 25\\ 15\\ 10\\ 8\\ 6.5\\ 5\\ 6.5\\ 8\\ 15\\ 28\\ 33\\ 28\\ 36\\ 22\\ 32\\ 25\\
27\\ 22\\ 32\\ 25\\ 34\\ 28\\ 38\\ 30\\ 45\\ 15\\ 8\\ 6.5\\ 5\\ 6.5\\ 5.5\\ 14\\ 26\\ 30\\ 41\\ 28\\ 38\\ 32\\ 41\\ 30\\
35\\ 26\\ 39\\ 30\\ 36\\ 28\\ 33\\ 26\\ 30\\ 22\\ 19\\ 12\\ 7\\ 5\\ 6.5\\ 9\\ 18\\ 26\\ 48\\ 28\\ 38\\ 25\\ 36\\ 28\\
30\\ 43\\ 28\\ 40\\ 25\\ 38\\ 24\\ 40\\ 27\\ 20\\ 15\\ 10\\ 6.5\\ 5\\ 6.5\\ 10\\ 20\\ 35\\ 43\\ 32\\ 42\\ 30\\ 38\\ 33\\
35\\ 42\\ 30\\ 36\\ 25\\ 20\\ 15\\ 10\\ 7\\ 6.5\\ 5\\ 6.5\\ 5.5\\ 8\\ 15\\ 22\\ 30\\ 25\\ 52\\ 35\\ 45\\ 54\\ 38\\ 53\\
40\\ 50\\ 30\\ 45\\ 26\\ 35\\ 22\\ 28\\ 15\\ 9\\ 6.5\\ 5\\ 6.5\\ 5.5\\ 8\\ 14\\ 20\\ 26\\ 22\\ 30\\ 28\\ 40\\ 30\\ 42\\
38\\ 30\\ 42\\ 28\\ 35\\ 25\\ 32\\ 20\\ 47\\ 15\\ 8\\ 6.5\\ 5\\ 6.5\\ 5.5\\ 8\\ 14\\ 25\\ 33\\ 28\\ 37\\ 30\\ 36\\ 32\\
30\\ 25\\ 38\\ 28\\ 50\\ 35\\ 43\\ 30\\ 20\\ 10\\ 6.5\\ 5\\ 6.5\\ 5\\ 6.5\\ 9\\ 18\\ 30\\ 38\\ 30\\ 40\\ 33\\ 45\\ 35\\
42\\ 35\\ 40\\ 32\\ 36\\ 28\\ 25\\ 20\\ 12\\ 8\\ 6.5\\ 5\\ 6.5\\ 5.5\\ 9\\ 20\\ 30\\ 40\\ 35\\ 47\\ 38\\ 45\\ 36\\ 44\\
40\\ 50\\ 35\\ 48\\ 30\\ 50\\ 25\\ 18\\ 10\\ 7\\ 5.5\\ 6.5\\ 5\\ 6.5\\ 8\\ 14\\ 25\\ 32\\ 38\\ 30\\ 42\\ 35\\ 60\\ 40\\
45\\ 35\\ 42\\ 30\\ 38\\ 25\\ 30\\ 20\\ 12\\ 7\\ 5.5\\ 6.5\\ 5\\ 6.5\\ 8\\ 15\\ 25\\ 35\\ 49\\ 30\\ 36\\ 26\\ 32\\ 28\\
32\\ 25\\ 35\\ 22\\ 30\\ 20\\ 15\\ 10\\ 7\\ 6.5\\ 5\\ 6.5\\ 5.5\\ 7\\ 12\\ 20\\ 28\\ 33\\ 40\\ 30\\ 54\\ 42\\ 45\\ 38\\
40\\ 30\\ 36\\ 25\\ 30\\ 20\\ 15\\ 9\\ 6.5\\ 5\\ 6.5\\ 5\\ 6.5\\ 8\\ 12\\ 20\\ 28\\ 35\\ 30\\ 38\\ 32\\ 40\\ 35\\ 52\\
42\\ 35\\ 40\\ 30\\ 36\\ 25\\ 28\\ 18\\ 10\\ 6.5\\ 5\\ 6.5\\ 5\\ 6.5\\ 9\\ 18\\ 26\\ 30\\ 28\\ 44\\ 34\\ 42\\ 32\\ 40\\
30\\ 38\\ 25\\ 36\\ 30\\ 32\\ 32\\ 32\\
};
\end{axis}

%================ overlays: frames, year ticks, titles, legends
\begin{scope}[x=1pt,y=-1pt]
\draw[black, line width=1.4pt] (81.4,42.7) -- (81.4,321.7) -- (523,321.7) -- (523,42.7);
\draw[black, line width=2pt] (81.4,164) -- (523,164);
\foreach \i in {0,...,14} \draw[black, line width=0.8pt] ({81.4+\i*31.053},321.7) -- ++(0,21.3);
\draw[black, line width=1.4pt] (632.6,315) -- (632.6,42.7) -- (1121.4,42.7);
\draw[black, line width=1.4pt] (632.6,315) -- (1121.4,315);
\draw[black, line width=2pt] (632.6,160.7) -- (1121.4,160.7);
\foreach \i in {0,...,14} \draw[black, line width=0.8pt] ({632.6+\i*34.372},315) -- ++(0,19);
\draw[black, line width=1.4pt] (70.4,518.3) -- (70.4,781) -- (526.8,781) -- (526.8,518.3);
\draw[black, line width=2pt] (70.4,631.7) -- (526.8,631.7);
\foreach \i in {0,...,14} \draw[black, line width=0.8pt] ({70.4+\i*32.094},781) -- ++(0,21);
\draw[black, line width=1.4pt] (630.5,514) -- (630.5,785) -- (1096,785) -- (1096,514);
\draw[black, line width=2pt] (630.5,630.7) -- (1096,630.7);
\foreach \i in {0,...,14} \draw[black, line width=0.8pt] ({630.5+\i*32.734},785) -- ++(0,20);
\draw[black, line width=1.6pt] (124,969.3) -- (124,1236.7) -- (1101,1236.7) -- (1101,969.3);
\draw[black, line width=2.2pt] (124,1084.7) -- (1101,1084.7);
\draw[hred!60!black, line width=0.8pt] (124,969.3) -- (1101,969.3);
\foreach \i in {0,...,14} \draw[black, line width=0.9pt] ({124+\i*68.46},1236.7) -- ++(0,21);
% titles
\node[text=txt, font=\fs{13.5}] at (289,22.7) {Subbasin "Lubi (2)" Results for Run "Run 1"};
\node[text=txt, font=\fs{15}] at (874,22.7) {Subbasin "Bi (A)" Results for Run "Run 1"};
\node[text=txt, font=\fs{13.6}] at (289.5,497.7) {Subbasin "Lubi (1)" Results for Run "Run 1"};
\node[text=txt, font=\fs{13.85}] at (853.7,491.7) {Subbasin "Lukeshi" Results for Run "Run 1"};
\node[text=txt, font=\widef\bfseries\fs{14.1}] at (600,947.3) {Subbasin "Lupaka" Results for Run "Run 1"};
% legend TL
\draw[boxc, line width=1pt] (28,433) -- (28,362.5) -- (31,362.5);
\draw[boxc, line width=1pt] (284,362.5) -- (548,362.5) -- (548,433);
\node[anchor=west, inner sep=0, text=txt, font=\fs{11.75}] at (33,363) {Legend (Compute Time: 31Jan2025, 00:37:05)};
\draw[hnavy, line width=4.3pt] (31,381) -- (64,381);
\draw[hred, line width=4.3pt] (31,401.7) -- (64,401.7);
\draw[hblue, line width=1.3pt] (31,422.3) -- (64,422.3);
\node[anchor=west, inner sep=0, text=ltxt, font=\fs{10.5}] at (70,382) {Run:Run 1 Element:Lubi (2) Result:Precipitatic};
\node[anchor=west, inner sep=0, text=ltxt, font=\fs{10.5}] at (70,402.5) {Run:Run 1 Element:Lubi (2) Result:Precipitation Los};
\node[anchor=west, inner sep=0, text=ltxt, font=\fs{10.5}] at (70,423) {Run:Run 1 Element:Lubi (2) Result:Outflow};
\draw[hred, line width=1pt] (29.6,393.3) rectangle (545.7,411);
% legend TR
\draw[boxc, line width=1pt] (588,425) -- (588,356) -- (592,356);
\draw[boxc, line width=1pt] (871,355) -- (1121,355);
\node[anchor=west, inner sep=0, text=txt, font=\fs{12.6}] at (594.7,356) {Legend (Compute Time: 31Jan2025, 00:47:08)};
\draw[hnavy, line width=4.5pt] (592,374.3) -- (627,374.3);
\draw[hred, line width=4.5pt] (592,393.3) -- (627,393.3);
\draw[hblue, line width=1.3pt] (592,412.7) -- (627,412.7);
\node[anchor=west, inner sep=0, text=ltxt, font=\fs{11.4}] at (634,375) {Run:Run 1 Element:Bi (A) Result:Precipitatic};
\node[anchor=west, inner sep=0, text=ltxt, font=\fs{11.4}] at (634,394) {Run:Run 1 Element:Bi (A) Result:Precipitation Los};
\node[anchor=west, inner sep=0, text=ltxt, font=\fs{11.4}] at (634,413.4) {Run:Run 1 Element:Bi (A) Result:Outflow};
% legend ML
\draw[boxc, line width=1pt] (26,888) -- (26,821) -- (30,821);
\draw[boxc, line width=1pt] (291,820) -- (553,820);
\node[anchor=west, inner sep=0, text=txt, font=\fs{11.8}] at (32,821.7) {Legend (Compute Time: 31Jan2025, 00:37:05)};
\draw[hnavy, line width=4.3pt] (30.4,840) -- (63.2,840);
\draw[hred, line width=4.3pt] (30.4,859) -- (63.2,859);
\draw[hblue, line width=1.3pt] (30.4,877.7) -- (63.2,877.7);
\node[anchor=west, inner sep=0, text=ltxt, font=\fs{10.65}] at (69.6,840.7) {Run:Run 1 Element:Lubi (1) Result:Precipitatic};
\node[anchor=west, inner sep=0, text=ltxt, font=\fs{10.65}] at (69.6,859.7) {Run:Run 1 Element:Lubi (1) Result:Precipitation Los};
\node[anchor=west, inner sep=0, text=ltxt, font=\fs{10.65}] at (69.6,878.4) {Run:Run 1 Element:Lubi (1) Result:Outflow};
\draw[hred, line width=1pt] (28.6,849) rectangle (549,867);
% legend MR
\draw[boxc, line width=1pt] (584.3,897) -- (584.3,825) -- (589,825);
\draw[boxc, line width=1pt] (857,823) -- (1121,823);
\node[anchor=west, inner sep=0, text=txt, font=\fs{12.06}] at (591.5,825) {Legend (Compute Time: 31Jan2025, 00:50:45)};
\draw[hnavy, line width=4.3pt] (589,844) -- (622.6,844);
\draw[hred, line width=4.3pt] (589,863.3) -- (622.6,863.3);
\draw[hblue, line width=1.3pt] (589,882.7) -- (622.6,882.7);
\node[anchor=west, inner sep=0, text=ltxt, font=\fs{10.8}] at (629.8,844.7) {Run:Run 1 Element:Lukeshi Result:Precipitatio};
\node[anchor=west, inner sep=0, text=ltxt, font=\fs{10.8}] at (629.8,864) {Run:Run 1 Element:Lukeshi Result:Precipitation Los};
\node[anchor=west, inner sep=0, text=ltxt, font=\fs{10.8}] at (629.8,883.4) {Run:Run 1 Element:Lukeshi Result:Outflow};
\draw[hred, line width=1pt] (588,854) rectangle (1118.8,872.3);
% legend bottom
\draw[boxc, line width=1pt] (43.6,1342) -- (43.6,1276) -- (54,1276);
\draw[boxc, line width=1pt] (603,1274) -- (1121,1274);
\node[anchor=west, inner sep=0, text=txt, font=\widef\bfseries\fs{12.3}] at (57,1276.7) {Legend (Compute Time: 31Jan2025, 00:47:08)};
\draw[hnavy, line width=5pt] (52.5,1294.3) -- (122.5,1294.3);
\draw[hred, line width=5pt] (52.5,1313.3) -- (122.5,1313.3);
\draw[hblue, line width=1.6pt] (52.5,1332.3) -- (122.5,1332.3);
\node[anchor=west, inner sep=0, text=ltxt, font=\wideg\fs{9.7}] at (136.4,1294.8) {Run:Run 1 Element:Lupaka Result:Precipitatio};
\node[anchor=west, inner sep=0, text=ltxt, font=\wideg\fs{9.7}] at (136.4,1313.8) {Run:Run 1 Element:Lupaka Result:Precipitation Los};
\node[anchor=west, inner sep=0, text=ltxt, font=\wideg\fs{9.7}] at (136.4,1332.8) {Run:Run 1 Element:Lupaka Result:Outflow};
\end{scope}
\end{tikzpicture}
\end{document}
